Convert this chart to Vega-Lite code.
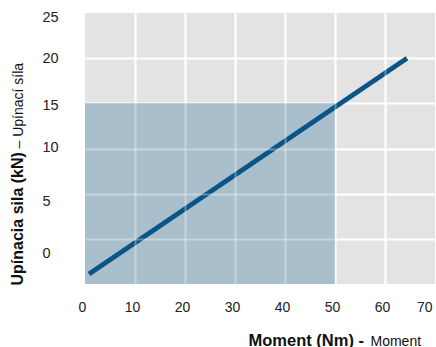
{
  "$schema": "https://vega.github.io/schema/vega-lite/v6.json",
  "width": 350,
  "height": 271,
  "autosize": {"type": "none"},
  "padding": {"left": 85, "top": 13, "right": 1, "bottom": 63},
  "background": "white",
  "config": {
    "font": "Liberation Sans",
    "view": {"fill": "#e3e3e3", "stroke": null},
    "axis": {"labelColor": "#222222", "titleColor": "#111111", "labelFont": "Liberation Sans", "titleFont": "Liberation Sans"}
  },
  "layer": [
    {
      "data": {"values": [{"m0": 0, "m1": 50, "f0": -5, "f1": 15}]},
      "mark": {"type": "rect", "color": "#a9bfcc"},
      "encoding": {
        "x": {
          "field": "m0", "type": "quantitative",
          "scale": {"domain": [0, 70], "nice": false, "zero": false},
          "axis": {
            "orient": "bottom",
            "values": [0, 10, 20, 30, 40, 50, 60, 70],
            "domain": false, "ticks": false, "tickSize": 0,
            "labelPadding": 16, "labelFontSize": 14, "labelOffset": -3,
            "labelAlign": {"condition": {"test": "datum.value == 70", "value": "right"}, "value": "center"},
            "grid": true, "gridColor": "white", "gridWidth": 2,
            "gridOpacity": {"condition": {"test": "datum.value == 0 || datum.value == 70", "value": 0}, "value": 1},
            "title": "Moment (Nm) -",
            "titleFontSize": 16.5, "titleFontWeight": "bold",
            "titleAlign": "left", "titleBaseline": "alphabetic",
            "titleX": 163, "titleY": 61
          }
        },
        "x2": {"field": "m1"},
        "y": {
          "field": "f0", "type": "quantitative",
          "scale": {"domain": [-5, 25], "nice": false, "zero": false},
          "axis": {
            "orient": "left",
            "values": [0, 5, 10, 15, 20, 25],
            "domain": false, "ticks": false, "tickSize": 0,
            "labelPadding": 43, "labelFontSize": 14.5, "labelAlign": "left", "labelBaseline": "middle",
            "labelOffset": {"condition": [
              {"test": "datum.value == 0", "value": 15},
              {"test": "datum.value == 5", "value": 8},
              {"test": "datum.value == 25", "value": 4},
              {"test": "datum.value == 15", "value": 2},
              {"test": "datum.value == 10", "value": -1.5}
            ], "value": 0},
            "grid": true, "gridColor": "white", "gridWidth": 2,
            "gridOpacity": {"condition": {"test": "datum.value == 25", "value": 0}, "value": 1},
            "title": "Upínacia sila (kN)",
            "titleFontSize": 16, "titleFontWeight": "bold",
            "titleAngle": 270, "titleAlign": "left", "titleBaseline": "alphabetic",
            "titleX": -63, "titleY": 272
          }
        },
        "y2": {"field": "f1"}
      }
    },
    {
      "data": {"values": [{"moment": 0.8, "sila": -3.9}, {"moment": 64.4, "sila": 20.0}]},
      "mark": {"type": "line", "color": "#0a5488", "strokeWidth": 4.8, "strokeCap": "butt"},
      "encoding": {
        "x": {
          "field": "moment", "type": "quantitative",
          "axis": {
            "orient": "bottom",
            "values": [10, 20, 30, 40, 50, 60],
            "domain": false, "ticks": false, "labels": false, "tickSize": 0,
            "grid": true, "gridColor": "white", "gridWidth": 2, "gridOpacity": 0.35,
            "zindex": 1,
            "title": "Moment",
            "titleFontSize": 14, "titleFontWeight": "normal",
            "titleAlign": "left", "titleBaseline": "alphabetic",
            "titleX": 285, "titleY": 61
          }
        },
        "y": {
          "field": "sila", "type": "quantitative",
          "axis": {
            "orient": "left",
            "values": [0, 5, 10],
            "domain": false, "ticks": false, "labels": false, "tickSize": 0,
            "grid": true, "gridColor": "white", "gridWidth": 2, "gridOpacity": 0.35,
            "zindex": 1,
            "title": "– Upínací síla",
            "titleFontSize": 14, "titleFontWeight": "normal",
            "titleAngle": 270, "titleAlign": "left", "titleBaseline": "alphabetic",
            "titleX": -63, "titleY": 135
          }
        }
      }
    }
  ],
  "resolve": {"axis": {"x": "independent", "y": "independent"}}
}
